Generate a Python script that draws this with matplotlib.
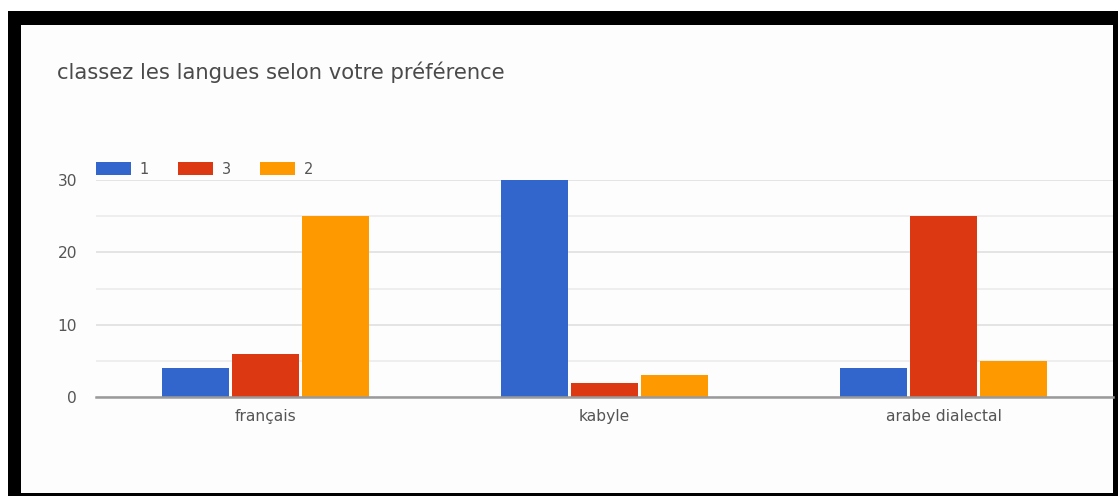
import matplotlib
matplotlib.use("Agg")
import matplotlib.pyplot as plt
from matplotlib.patches import Rectangle
import numpy as np

plt.rcParams["font.family"] = ["DejaVu Sans"]

title = "classez les langues selon votre préférence"
categories = ["français", "kabyle", "arabe dialectal"]
series_names = ["1", "3", "2"]
values_1 = [4, 30, 4]
values_3 = [6, 2, 25]
values_2 = [25, 3, 5]
series_values = [values_1, values_3, values_2]
colors = ["#3366cc", "#dc3912", "#ff9900"]
yticks = [0, 10, 20, 30]
minor_yticks = [5, 15, 25]

W, H = 1118, 496
fig = plt.figure(figsize=(W / 100, H / 100), dpi=100)
fig.patch.set_facecolor("white")

def px(x0, y0, x1, y1):
    # pixel box (top-left origin) -> figure fraction rect
    return (x0 / W, 1 - y1 / H, (x1 - x0) / W, (y1 - y0) / H)

# black frame around the screenshot
x, y, w, h = px(8, 11, W + 5, H + 5)
fig.patches.append(Rectangle((x, y), w, h, transform=fig.transFigure,
                             facecolor="black", edgecolor="none", zorder=0))
x, y, w, h = px(21, 25, 1113, 493)
fig.patches.append(Rectangle((x, y), w, h, transform=fig.transFigure,
                             facecolor="#fdfdfd", edgecolor="none", zorder=0.5))

ax = fig.add_axes(px(96, 180, 1113, 397))
ax.set_facecolor("none")
ax.set_zorder(2)

xpos = np.arange(len(categories))
offset = 0.207
width = 0.199
for i, (name, vals, c) in enumerate(zip(series_names, series_values, colors)):
    ax.bar(xpos + (i - 1) * offset, vals, width=width, color=c, label=name, zorder=3)

ax.set_xlim(-0.5, 2.5)
ax.set_ylim(0, 30)
ax.set_yticks(yticks)
ax.set_yticks(minor_yticks, minor=True)
ax.set_xticks(xpos)
ax.set_xticklabels(categories)
for s in ax.spines.values():
    s.set_visible(False)
ax.grid(True, axis="y", which="major", color="#e0e0e0", lw=1.2, zorder=0)
ax.grid(True, axis="y", which="minor", color="#ececec", lw=1.2, zorder=0)
ax.axhline(0, color="#9a9a9a", lw=1.8, zorder=4, clip_on=False)
ax.tick_params(axis="both", which="both", length=0, labelsize=11.2)
ax.tick_params(axis="y", pad=13.5)
ax.tick_params(axis="x", pad=8.5)
for lbl in ax.get_xticklabels() + ax.get_yticklabels():
    lbl.set_color("#555555")

fig.text(57 / W, 1 - 72 / H, title, ha="left", va="center", fontsize=15.2,
         color="#4a4a4a")

leg = fig.legend(loc="center left", bbox_to_anchor=(96 / W, 1 - 169 / H),
                 bbox_transform=fig.transFigure, ncol=3, frameon=False,
                 fontsize=10.5, handlelength=2.4, handleheight=0.9,
                 handletextpad=0.6, columnspacing=2.0, borderpad=0,
                 borderaxespad=0, labelcolor="#555555")

fig.savefig("out.png", dpi=100, facecolor="white")
